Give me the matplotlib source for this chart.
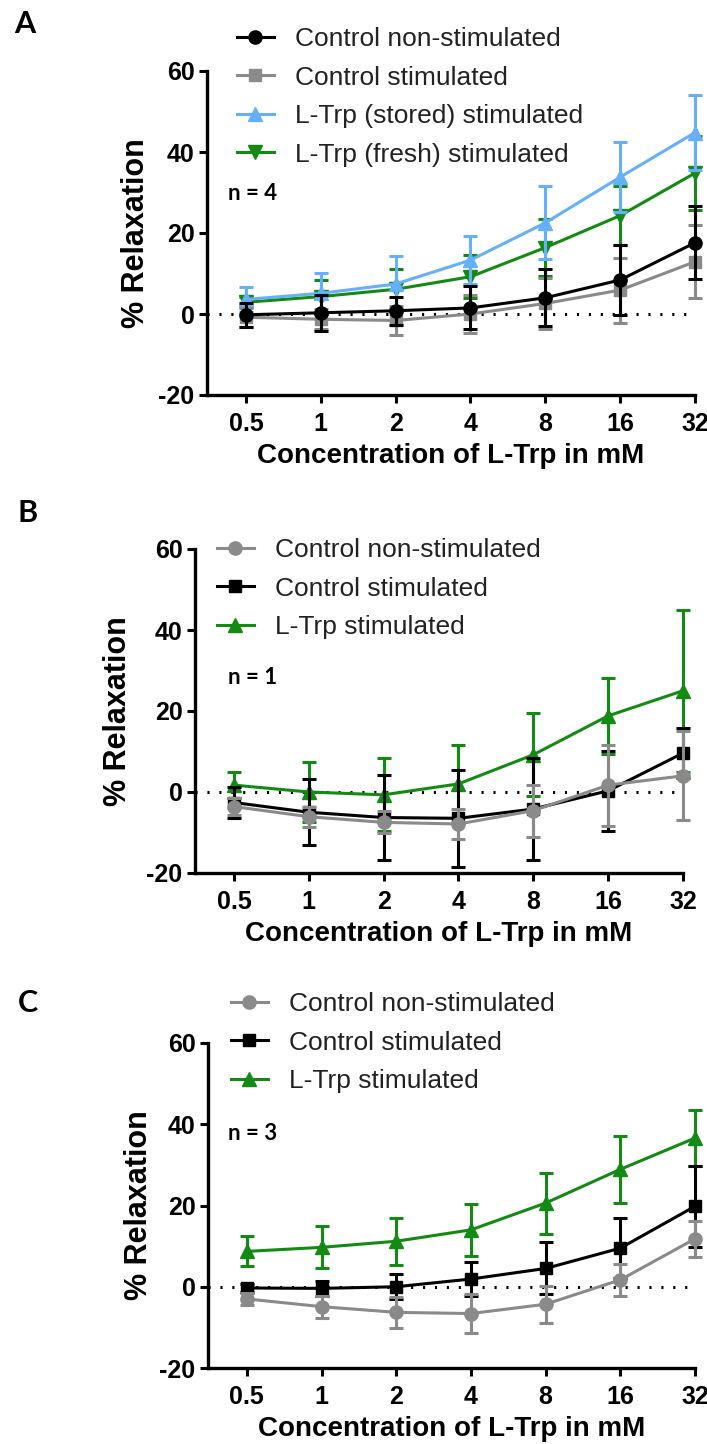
import numpy as np
import matplotlib
matplotlib.use("Agg")
import matplotlib.pyplot as plt

plt.rcParams['font.family'] = ['Liberation Sans', 'DejaVu Sans']

# Concentrations of L-Trp (mM), plotted as equally spaced categories
conc_labels = ["0.5", "1", "2", "4", "8", "16", "32"]
y_ticks = [-20, 0, 20, 40, 60]

# Panel A (n = 4)
a_ctrl_nonstim = [-0.2, 0.3, 0.8, 1.5, 4.0, 8.4, 17.6]
a_ctrl_nonstim_err = [3.0, 4.4, 3.5, 5.3, 7.0, 8.6, 9.0]
a_ctrl_stim = [-0.8, -1.3, -1.6, 0.0, 2.6, 5.9, 12.9]
a_ctrl_stim_err = [2.3, 2.5, 3.6, 4.7, 6.3, 8.0, 9.0]
a_trp_stored = [3.6, 5.1, 7.4, 13.3, 22.5, 33.8, 44.8]
a_trp_stored_err = [3.1, 5.1, 6.9, 5.9, 9.0, 8.7, 9.3]
a_trp_fresh = [2.9, 4.3, 6.1, 9.2, 16.4, 24.3, 34.8]
a_trp_fresh_err = [1.2, 4.2, 4.9, 5.3, 7.1, 7.3, 9.2]

# Panel B (n = 1)
b_ctrl_nonstim = [-3.6, -6.1, -7.5, -7.9, -4.6, 1.7, 4.0]
b_ctrl_nonstim_err = [2.0, 2.5, 2.7, 3.6, 6.4, 10.0, 11.0]
b_ctrl_stim = [-2.6, -5.0, -6.3, -6.5, -4.2, 0.3, 9.6]
b_ctrl_stim_err = [3.9, 8.2, 10.6, 12.0, 12.5, 9.9, 6.2]
b_trp_stim = [1.7, 0.0, -0.7, 2.0, 9.2, 18.8, 25.0]
b_trp_stim_err = [3.3, 7.5, 9.0, 9.6, 10.3, 9.4, 20.0]

# Panel C (n = 3)
c_ctrl_nonstim = [-3.0, -4.9, -6.3, -6.6, -4.3, 1.7, 11.8]
c_ctrl_nonstim_err = [1.5, 2.7, 3.8, 4.8, 4.6, 3.9, 4.5]
c_ctrl_stim = [-0.3, -0.4, 0.0, 1.9, 4.5, 9.5, 19.8]
c_ctrl_stim_err = [1.0, 1.8, 3.1, 4.1, 6.4, 7.4, 9.9]
c_trp_stim = [8.7, 9.7, 11.2, 14.0, 20.6, 28.9, 36.6]
c_trp_stim_err = [3.7, 5.2, 5.8, 6.4, 7.5, 8.2, 6.9]

BLACK = "#000000"
GRAY = "#8a8a8a"
BLUE = "#66affa"
GREEN = "#138a13"

W, H = 707, 1444
fig = plt.figure(figsize=(W / 100, H / 100), dpi=100)

panels = [
    dict(letter="A", letter_xy=(25, 24), box=(207, 695, 71, 395), n_text="n = 4", n_xy=(228, 193),
         legend_xy=(237, 27), ylab_x=-0.115,
         series=[("Control non-stimulated", a_ctrl_nonstim, a_ctrl_nonstim_err, BLACK, "o", 9.5),
                 ("Control stimulated", a_ctrl_stim, a_ctrl_stim_err, GRAY, "s", 8.5),
                 ("L-Trp (stored) stimulated", a_trp_stored, a_trp_stored_err, BLUE, "^", 10),
                 ("L-Trp (fresh) stimulated", a_trp_fresh, a_trp_fresh_err, GREEN, "v", 10)]),
    dict(letter="B", letter_xy=(28, 513), box=(195, 683, 549, 873), n_text="n = 1", n_xy=(228, 677),
         legend_xy=(217, 538), ylab_x=-0.127,
         series=[("Control non-stimulated", b_ctrl_nonstim, b_ctrl_nonstim_err, GRAY, "o", 9.5),
                 ("Control stimulated", b_ctrl_stim, b_ctrl_stim_err, BLACK, "s", 8.5),
                 ("L-Trp stimulated", b_trp_stim, b_trp_stim_err, GREEN, "^", 10)]),
    dict(letter="C", letter_xy=(28, 1003), box=(208, 695, 1043, 1368), n_text="n = 3", n_xy=(228, 1134),
         legend_xy=(231, 992), ylab_x=-0.111,
         series=[("Control non-stimulated", c_ctrl_nonstim, c_ctrl_nonstim_err, GRAY, "o", 9.5),
                 ("Control stimulated", c_ctrl_stim, c_ctrl_stim_err, BLACK, "s", 8.5),
                 ("L-Trp stimulated", c_trp_stim, c_trp_stim_err, GREEN, "^", 10)]),
]

x = np.arange(len(conc_labels))

for p in panels:
    left, right, top, bottom = p["box"]
    ax = fig.add_axes([left / W, 1 - bottom / H, (right - left) / W, (bottom - top) / H])

    # first series in the legend is drawn on top, as in the original
    for i, (label, y, err, color, marker, ms) in enumerate(p["series"]):
        z = 10 - 2 * i
        ax.errorbar(x, y, yerr=err, fmt="none", ecolor=color, elinewidth=2.2,
                    capsize=5, capthick=2.2, zorder=z, clip_on=False)
        ax.plot(x, y, color=color, lw=2.2, marker=marker, ms=ms, zorder=z + 1,
                clip_on=False, label=label)

    ax.axhline(0, color="black", lw=2.2, ls=(0, (0.7, 3.2)), zorder=1)

    ax.set_xlim(-0.52, 6)
    ax.set_ylim(-20, 60)
    ax.set_xticks(x, conc_labels)
    ax.set_yticks(y_ticks, [str(v) for v in y_ticks])
    for s in ["top", "right"]:
        ax.spines[s].set_visible(False)
    for s in ["left", "bottom"]:
        ax.spines[s].set_linewidth(2.4)
    ax.tick_params(width=2.2, length=6, labelsize=18)
    ax.tick_params(axis="x", pad=6)
    ax.tick_params(axis="y", pad=3)
    for lbl in ax.get_xticklabels() + ax.get_yticklabels():
        lbl.set_fontweight("bold")

    ax.set_xlabel("Concentration of L-Trp in mM", fontsize=20, fontweight="bold", labelpad=5)
    ax.set_ylabel("% Relaxation", fontsize=22, fontweight="bold")
    ax.yaxis.set_label_coords(p["ylab_x"], 0.5)

    lx, ly = p["legend_xy"]
    ax.legend(loc="upper left", bbox_to_anchor=(lx / W, 1 - ly / H), bbox_transform=fig.transFigure,
              frameon=False, borderpad=0, borderaxespad=0, handlelength=1.4, handletextpad=0.8,
              labelspacing=0.55, fontsize=19, labelcolor="#222222")

    fig.text(p["letter_xy"][0] / W, 1 - p["letter_xy"][1] / H, p["letter"], family=["Lato", "DejaVu Sans"],
             fontweight="bold", fontsize=22, ha="center", va="center")
    fig.text(p["n_xy"][0] / W, 1 - p["n_xy"][1] / H, p["n_text"], family=["Lato", "DejaVu Sans"],
             fontweight="bold", fontsize=16, ha="left", va="center")

fig.savefig("out.png", dpi=100)
